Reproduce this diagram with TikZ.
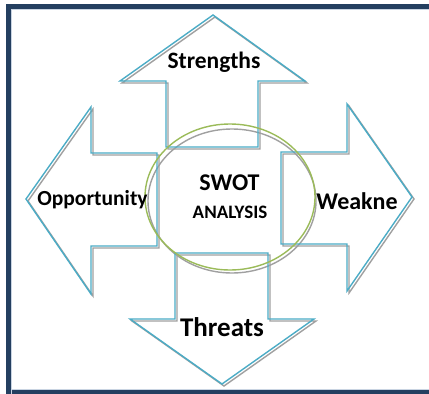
\documentclass[tikz,border=0pt]{standalone}
\usepackage{fontspec}
\setmainfont{Carlito}
\begin{document}
\begin{tikzpicture}[x=1pt,y=-1pt,
  arrowline/.style={draw=arrowblue,line width=1.4pt,line join=miter},
  arrowshadow/.style={draw=shadowgray,line width=1.4pt,line join=miter},
  lbl/.style={inner sep=0pt,text=black}]
\definecolor{arrowblue}{HTML}{4BACC6}
\definecolor{shadowgray}{HTML}{A0A0A0}
\definecolor{ellgreen}{HTML}{9BBB59}
\definecolor{framedark}{HTML}{243F60}
\definecolor{framelight}{HTML}{C9D4E2}
\useasboundingbox (0,0) rectangle (429,394);
\fill[white] (0,0) rectangle (429,394);
% frame
\fill[framedark] (6,4) rectangle (429,9);
\fill[framedark] (6,4) rectangle (11,394);
\fill[framedark] (6,390) rectangle (429,394);
\draw[framelight,line width=0.8pt] (11.5,394) -- (11.5,9.5) -- (429,9.5);
\draw[framelight,line width=0.8pt] (11.5,389.5) -- (429,389.5);
% shapes
\def\swotUp{(213,15) -- (305,81) -- (258,81) -- (258,147) -- (166,147) -- (166,81) -- (120,81) -- cycle}
\def\swotLeft{(26,199) -- (91,107) -- (91,153) -- (157,153) -- (157,246) -- (91,246) -- (91,294) -- cycle}
\def\swotRight{(412,197) -- (347,104) -- (347,152) -- (281,152) -- (281,244) -- (347,244) -- (347,291) -- cycle}
\def\swotDown{(222,384) -- (314,319) -- (268,319) -- (268,253) -- (175,253) -- (175,319) -- (130,319) -- cycle}
\begin{scope}[shift={(2,2)}]
\draw[arrowshadow] \swotUp;
\draw[arrowshadow] \swotLeft;
\draw[arrowshadow] \swotRight;
\draw[arrowshadow] \swotDown;
\end{scope}
\draw[shadowgray,line width=1.4pt] (232,201) ellipse [x radius=84, y radius=72];
\draw[arrowline] \swotUp;
\draw[arrowline] \swotLeft;
\draw[arrowline] \swotRight;
\draw[arrowline] \swotDown;
\draw[ellgreen,line width=1.4pt] (230,197) ellipse [x radius=85, y radius=73];
% labels
\node[lbl,font=\bfseries\fontsize{23.5}{26}\selectfont] (s) at (214,62) {Strengths};
\node[lbl,font=\bfseries\fontsize{21.5}{24}\selectfont] (o) at (92.5,200) {Opportunity};
\node[lbl,font=\bfseries\fontsize{24}{27}\selectfont] (w) at (357,201) {Weakne};
\node[lbl,font=\bfseries\fontsize{27}{30}\selectfont] (t) at (222,327) {Threats};
\node[lbl,font=\bfseries\fontsize{24}{27}\selectfont] (sw) at (229.5,183) {SWOT};
\node[lbl,font=\bfseries\fontsize{19}{22}\selectfont] (an) at (230,212) {ANALYSIS};
\end{tikzpicture}
\end{document}
